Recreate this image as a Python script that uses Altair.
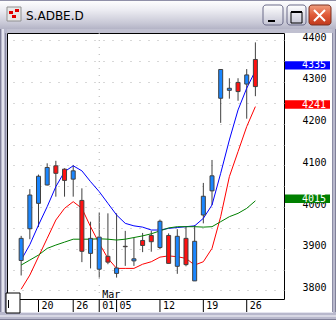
import altair as alt
import pandas as pd

# ---------------- data ----------------
days = ["02-15", "02-16", "02-20", "02-21", "02-22", "02-23", "02-26", "02-27", "02-28",
        "03-01", "03-02", "03-05", "03-06", "03-07", "03-08", "03-09", "03-12", "03-13",
        "03-14", "03-15", "03-16", "03-19", "03-20", "03-21", "03-22", "03-23", "03-26", "03-27"]
open_ = [3872, 3948, 4009, 4053, 4099, 4091, 4067, 4016, 3889, 3851, 3882, 3841, 3906, 3871,
         3920, 3932, 3903, 3932, 3858, 3925, 3823, 3981, 4039, 4261, 4280, 4299, 4295, 4354]
high = [3931, 4043, 4078, 4105, 4111, 4093, 4101, 4045, 3965, 3987, 3985, 3985, 3943, 3927,
        3938, 3943, 3970, 3937, 3947, 3953, 3957, 4058, 4113, 4331, 4309, 4309, 4331, 4395]
low = [3836, 3923, 3952, 4052, 4025, 4025, 4025, 3868, 3853, 3831, 3863, 3831, 3859, 3859,
       3892, 3893, 3899, 3865, 3840, 3858, 3823, 3961, 4005, 4202, 4260, 4255, 4212, 4266]
close = [3925, 4029, 4074, 4095, 4081, 4064, 4087, 3894, 3925, 3928, 3868, 3854, 3905, 3876,
         3908, 3917, 3966, 3865, 3930, 3862, 3918, 4026, 4075, 4330, 4285, 4277, 4317, 4289]
ma_blue = [3873, 3910, 3957, 4001, 4049, 4085, 4099, 4087, 4061, 4037, 4009, 3981, 3961, 3955,
           3952, 3945, 3945, 3949, 3951, 3953, 3955, 3973, 4005, 4081, 4161, 4233, 4285, 4327]
ma_red = [3803, 3837, 3881, 3925, 3969, 3997, 4013, 3997, 3953, 3913, 3877, 3853, 3853, 3853,
          3863, 3869, 3880, 3883, 3881, 3877, 3861, 3869, 3901, 3977, 4073, 4133, 4193, 4241]
ma_green = [3861, 3873, 3885, 3901, 3909, 3916, 3923, 3923, 3923, 3924, 3923, 3921, 3923, 3927,
            3931, 3936, 3943, 3950, 3953, 3953, 3953, 3952, 3953, 3965, 3977, 3985, 3997, 4015]

tick_pos = [2, 6, 9, 11, 16, 21, 26]
tick_lab = ["20", "26", "01", "05", "12", "19", "26"]
month_pos = [9]
month_lab = ["Mar"]

last_vals = [4335, 4241, 4015]
last_cols = ["#0000ff", "#ff0000", "#008000"]

UP = "#1a86ff"
DOWN = "#ff1010"
EDGE = "#404040"
FONT = "DejaVu Sans Mono"

# ---------------- tables ----------------
n = len(days)
candles = pd.DataFrame({
    "i": list(range(n)), "day": days, "open": open_, "high": high, "low": low, "close": close,
})
candles["col"] = [UP if c >= o else DOWN for o, c in zip(open_, close)]

ma_rows = []
for name, col, vals in [("ma1", "#0000ff", ma_blue), ("ma2", "#ff0000", ma_red), ("ma3", "#008000", ma_green)]:
    for k, v in enumerate(vals):
        ma_rows.append({"i": k, "v": v, "s": name, "col": col})
ma = pd.DataFrame(ma_rows)

ticks = pd.DataFrame({"i": tick_pos, "t": tick_lab})
months = pd.DataFrame({"i": month_pos, "t": month_lab})
boxes = pd.DataFrame({"v": last_vals, "col": last_cols, "t": [str(v) for v in last_vals]})
boxes["top"] = boxes["v"] + 15
boxes["bot"] = boxes["v"] - 5

xs = alt.Scale(domain=[-1.0556, 29.722], nice=False, zero=False)
ys = alt.Scale(domain=[3779.6, 4417.5], nice=False, zero=False)

yaxis = alt.Axis(orient="right", values=list(range(3800, 4401, 50)), format="d",
                 labelExpr="datum.value % 100 == 0 ? datum.label : ''",
                 grid=True, gridDash=[1, 8], gridColor="#b0b0b0", gridWidth=1,
                 domain=False, ticks=False, tickSize=0, labelPadding=18,
                 labelAlign="left", labelBaseline="alphabetic", labelFont=FONT,
                 labelFontSize=10, labelColor="black", labelOverlap=False, title=None)

X = alt.X("i:Q", scale=xs, axis=None)


def Y(field):
    return alt.Y(field, scale=ys, axis=yaxis, title=None)


# ---------------- data layers ----------------
mar_grid = alt.Chart(months).mark_rule(color="#b0b0b0", strokeDash=[1, 6]).encode(
    x=X, y=alt.value(0), y2=alt.value(266))

lines = alt.Chart(ma).mark_line(strokeWidth=1).encode(
    x=X, y=Y("v:Q"),
    stroke=alt.Stroke("col:N", scale=None), detail="s:N")

wicks = alt.Chart(candles).mark_rule(color=EDGE, strokeWidth=1).encode(
    x=X, y=Y("low:Q"), y2="high:Q")

bodies = alt.Chart(candles).mark_bar(width=4, stroke=EDGE, strokeWidth=1).encode(
    x=X, y=Y("open:Q"), y2="close:Q",
    fill=alt.Fill("col:N", scale=None))

box_rects = alt.Chart(boxes).mark_rect().encode(
    x=alt.value(278), x2=alt.value(323),
    y=Y("top:Q"), y2="bot:Q",
    fill=alt.Fill("col:N", scale=None))
box_text = alt.Chart(boxes).mark_text(align="left", baseline="alphabetic", dy=1,
                                      font=FONT, fontSize=10, color="white").encode(
    x=alt.value(295), y=Y("v:Q"), text="t:N")

xticks = alt.Chart(ticks).mark_rule(color="black", strokeWidth=1).encode(
    x=X, y=alt.value(266), y2=alt.value(279))
xlabels = alt.Chart(ticks).mark_text(align="left", baseline="middle", dx=3,
                                     font=FONT, fontSize=10, color="black").encode(
    x=X, y=alt.value(273), text="t:N")
mlabels = alt.Chart(months).mark_text(align="left", baseline="middle", dx=3,
                                      font=FONT, fontSize=10, color="black").encode(
    x=X, y=alt.value(261.5), text="t:N")

# ---------------- window chrome (decoration, plot-relative pixels) ----------------
one = pd.DataFrame({"a": [1]})


def rect(x1, x2, y1, y2, **kw):
    return alt.Chart(one).mark_rect(**kw).encode(
        x=alt.value(x1), x2=alt.value(x2), y=alt.value(y1), y2=alt.value(y2))


def seg(x1, y1, x2, y2, **kw):
    return alt.Chart(one).mark_rule(**kw).encode(
        x=alt.value(x1), x2=alt.value(x2), y=alt.value(y1), y2=alt.value(y2))


title_grad = alt.Gradient(gradient="linear", x1=0, y1=0, x2=0, y2=1, stops=[
    alt.GradientStop(offset=0, color="#ffffff"),
    alt.GradientStop(offset=0.35, color="#ececf2"),
    alt.GradientStop(offset=0.8, color="#c8c8d6"),
    alt.GradientStop(offset=1, color="#b4b4c6")])
btn_grad = alt.Gradient(gradient="linear", x1=0, y1=0, x2=0, y2=1, stops=[
    alt.GradientStop(offset=0, color="#ffffff"),
    alt.GradientStop(offset=1, color="#c4c4d4")])
close_grad = alt.Gradient(gradient="linear", x1=0, y1=0, x2=0, y2=1, stops=[
    alt.GradientStop(offset=0, color="#f0a080"),
    alt.GradientStop(offset=0.5, color="#e05a38"),
    alt.GradientStop(offset=1, color="#c0381c")])

chrome = [
    # frame
    rect(-7, 329, -33, 0, fill="#c0c0d0"),
    rect(-7, 0, -33, 287, fill="#b8b8cc"),
    rect(-7, -6, -33, 287, fill="#808098"),
    rect(-5, -3, -33, 287, fill="#e4e4ee"),
    rect(-2, -1, 0, 287, fill="#8c8ca4"),
    rect(325, 329, -33, 287, fill="#b8b8cc"),
    rect(328, 329, -33, 287, fill="#808098"),
    rect(325, 326, 0, 280, fill="#8c8ca4"),
    rect(-7, 329, 279, 287, fill="#b8b8cc"),
    rect(-7, 329, 286, 287, fill="#808098"),
    rect(-1, 326, 279, 280, fill="#e4e4ee"),
    rect(-7, 329, 282, 284, fill="#d8d8e4"),
    # title bar
    rect(-7, 329, -33, -4, fill=title_grad),
    rect(-7, 329, -33, -32, fill="#9090a8"),
    # icon
    rect(0, 14, -26, -12, fill="#e8e8e8", stroke="#909090", strokeWidth=1),
    rect(2, 6, -22, -19, fill="#e00000"),
    rect(8, 12, -24, -21, fill="#e00000"),
    rect(5, 9, -18, -15, fill="#e00000"),
    # buttons
    rect(256, 276, -28, -8, fill=btn_grad, stroke="#6a6a88", strokeWidth=1, cornerRadius=3),
    rect(261, 268, -13, -11, fill="black"),
    rect(280, 299, -28, -8, fill=btn_grad, stroke="#6a6a88", strokeWidth=1, cornerRadius=3),
    rect(284, 295, -21, -10, fill="none", stroke="black", strokeWidth=1),
    rect(284, 295, -22, -20, fill="black"),
    rect(302, 324, -28, -8, fill=close_grad, stroke="#7a3020", strokeWidth=1, cornerRadius=3),
    seg(307, -23, 318, -12, color="white", strokeWidth=2),
    seg(318, -23, 307, -12, color="white", strokeWidth=2),
    # scroll box bottom-left
    rect(-1, 13, 260, 280, fill="white", stroke="black", strokeWidth=1),
    seg(1.5, 267, 1.5, 275, color="black", strokeWidth=1),
]

title_text = alt.Chart(one).mark_text(align="left", baseline="alphabetic", font="DejaVu Sans",
                                      fontSize=12, color="black", text="S.ADBE.D").encode(
    x=alt.value(19), y=alt.value(-13))

chart = alt.layer(
    wicks, mar_grid, lines, bodies, box_rects, box_text, xticks, xlabels, mlabels,
    *chrome, title_text
).properties(
    width=277, height=266,
    padding={"left": 7, "top": 33, "right": 52, "bottom": 21},
    autosize=alt.AutoSizeParams(type="none"),
    background="white",
).configure_view(stroke="black", strokeWidth=1)

chart.save("out.html", embed_options={"renderer": "svg", "actions": False})
